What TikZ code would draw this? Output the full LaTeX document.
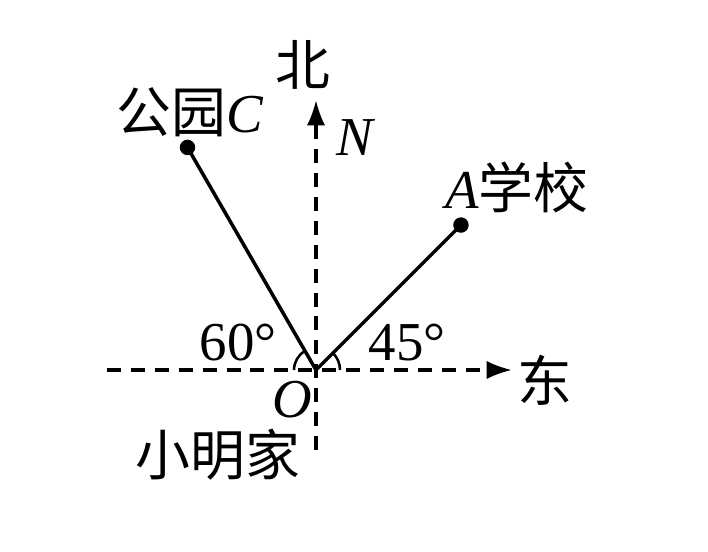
\documentclass[tikz,border=0pt]{standalone}
\usepackage{fontspec}
\setmainfont{Liberation Serif}
\newfontfamily\cjk{Noto Sans CJK SC}
\usetikzlibrary{arrows.meta}
\tikzstyle{axis}=[line width=2.3pt, dash pattern=on 10pt off 7pt]
\tikzstyle{ray}=[line width=2.5pt]
\tikzstyle{lbl}=[inner sep=0pt, font=\fontsize{39}{41}\selectfont]
\tikzstyle{dot}=[circle, fill=black, inner sep=0pt, minimum size=11pt]

\begin{document}
\begin{tikzpicture}[x=0.025cm, y=0.025cm]
          \useasboundingbox (-316, -181) rectangle (392, 370);
          \coordinate (O) at (0, 0);
          \coordinate (S) at (0, -80);
          \coordinate (N) at (0, 270);
          \coordinate (W) at (-209, 0);
          \coordinate (E) at (196, 0);
          \node[dot] (C) at (120:257) {};
          \node[dot] (A) at (45:205) {};
          % axes
          \draw[axis, -{Latex[length=18pt, width=13pt]}] (S) -- (N);
          \draw[axis, -{Latex[length=18pt, width=13pt]}] (W) -- (E);
          % rays
          \draw[ray] (O) -- (C.center);
          \draw[ray] (O) -- (A.center);
          \draw[line width=1.8pt] (120:22) arc (120:180:22);
          \draw[line width=1.8pt] (0:24) arc (0:45:24);
          % labels
          \node[lbl] (bei) at (-13, 305) {\cjk 北};
          \node[lbl] (nlbl) at (39, 232) {\itshape N};
          \node[lbl] (clbl) at (-126, 258) {{\cjk 公园}\itshape C};
          \node[lbl] (albl) at (201, 183) {{\itshape A}\cjk 学校};
          \node[lbl] (sixty) at (-78, 27) {60°};
          \node[lbl] (fortyfive) at (91, 27) {45°};
          \node[lbl] (dong) at (229, -10) {\cjk 东};
          \node[lbl] (olbl) at (-24, -30) {\itshape O};
          \node[lbl] (home) at (-98, -85) {\cjk 小明家};
        \end{tikzpicture}
\end{document}
